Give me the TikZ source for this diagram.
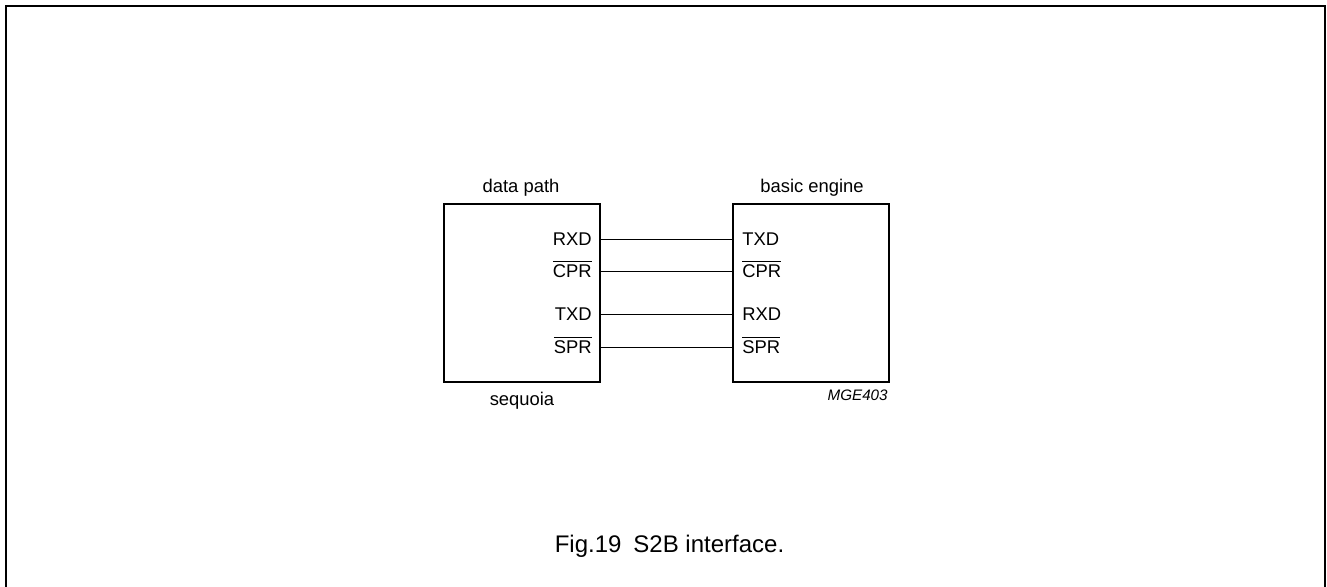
\documentclass[tikz,border=0pt]{standalone}
\usepackage{fontspec}
\setmainfont{Liberation Sans}
\newcommand{\ovl}[1]{\(\overline{\hbox{#1}}\)}
\begin{document}
\begin{tikzpicture}[x=0.5pt,y=-0.5pt,
  block/.style={draw,line width=1.1pt,minimum width=78pt,minimum height=89pt,inner sep=0pt},
  pin/.style={font=\fontsize{9.2}{11}\selectfont,inner sep=0pt},
  ttl/.style={font=\fontsize{9.2}{11}\selectfont,inner sep=0pt,anchor=base},
  wire/.style={line width=0.5pt}]
\useasboundingbox (0,0) rectangle (1327,586);
\draw[line width=0.8pt] (6,600) -- (6,6) -- (1325,6) -- (1325,600);
% blocks
\node[block] (dp) at (522,293) {};
\node[block] (be) at (811,293) {};
% titles
\node[ttl] (dpt) at (521,192) {data path};
\node[ttl] (bet) at (812,192) {basic engine};
\node[ttl] (seq) at (522,405) {sequoia};
\node[font=\fontsize{7.6}{9}\selectfont\itshape,inner sep=0pt,anchor=base east] (mge) at (888,400) {MGE403};
% pins left
\node[pin,anchor=base east] (lr) at (592,245.5) {RXD};
\node[pin,anchor=base east] (lc) at (592,277.5) {\ovl{CPR}};
\node[pin,anchor=base east] (lt) at (592,320.5) {TXD};
\node[pin,anchor=base east] (ls) at (592,353.5) {\ovl{SPR}};
% pins right
\node[pin,anchor=base west] (rt) at (742,245.5) {TXD};
\node[pin,anchor=base west] (rc) at (742,277.5) {\ovl{CPR}};
\node[pin,anchor=base west] (rr) at (742,320.5) {RXD};
\node[pin,anchor=base west] (rs) at (742,353.5) {\ovl{SPR}};
% wires
\coordinate (a1) at (dp.east |- 0,239);
\coordinate (a2) at (dp.east |- 0,271);
\coordinate (a3) at (dp.east |- 0,314);
\coordinate (a4) at (dp.east |- 0,347);
\coordinate (b1) at (be.west |- 0,239);
\coordinate (b2) at (be.west |- 0,271);
\coordinate (b3) at (be.west |- 0,314);
\coordinate (b4) at (be.west |- 0,347);
\draw[wire] (a1) -- (b1);
\draw[wire] (a2) -- (b2);
\draw[wire] (a3) -- (b3);
\draw[wire] (a4) -- (b4);
% caption
\node[font=\fontsize{12}{14}\selectfont,inner sep=0pt,anchor=base] (cap) at (669.5,552) {Fig.19\hspace{0.5em}S2B interface.};
\end{tikzpicture}
\end{document}
